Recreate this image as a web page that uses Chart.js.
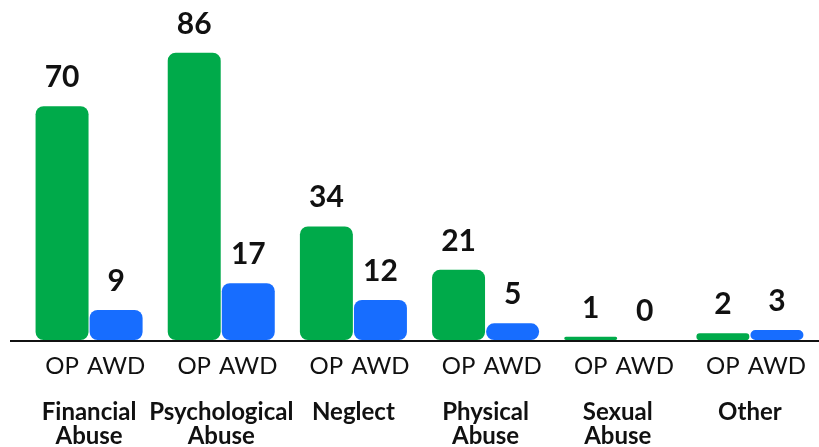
<!DOCTYPE html>
<html>
<head>
<meta charset="utf-8">
<script src="https://cdn.jsdelivr.net/npm/chart.js@4"></script>
<style>
  html, body { margin: 0; padding: 0; background: #fff; }
  #wrap { width: 819px; height: 447px; }
</style>
</head>
<body>
<div id="wrap"><canvas id="chart"></canvas></div>
<script>
var categories = [["Financial", "Abuse"], ["Psychological", "Abuse"], "Neglect", ["Physical", "Abuse"], ["Sexual", "Abuse"], "Other"];
var seriesNames = ["OP", "AWD"];
var opValues = [70, 86, 34, 21, 1, 2];
var awdValues = [9, 17, 12, 5, 0, 3];

var GREEN = '#00aa4a';
var BLUE = '#176dff';

// value labels above bars + OP/AWD under each bar + baseline
var barText = {
    id: 'barText',
    afterDatasetsDraw: function(chart) {
        var ctx = chart.ctx;
        var area = chart.chartArea;
        ctx.save();
        ctx.strokeStyle = '#111';
        ctx.lineWidth = 2;
        ctx.beginPath();
        ctx.moveTo(10, area.bottom + 1);
        ctx.lineTo(chart.width, area.bottom + 1);
        ctx.stroke();

        ctx.textAlign = 'center';
        chart.data.datasets.forEach(function(ds, i) {
            var meta = chart.getDatasetMeta(i);
            meta.data.forEach(function(bar, j) {
                ctx.fillStyle = '#111';
                ctx.font = 'bold 30px Lato';
                ctx.textBaseline = 'alphabetic';
                ctx.fillText(String(ds.data[j]), bar.x, bar.y - 19);

                ctx.font = '24px Lato';
                ctx.textBaseline = 'middle';
                ctx.fillText(ds.label, bar.x, area.bottom + 26);
            });
        });
        ctx.restore();
    }
};

new Chart(document.getElementById('chart'), {
    type: 'bar',
    data: {
        labels: categories,
        datasets: [
            {
                label: seriesNames[0],
                data: opValues,
                backgroundColor: GREEN,
                borderRadius: 8,
                borderSkipped: false,
                categoryPercentage: 0.818,
                barPercentage: 0.98
            },
            {
                label: seriesNames[1],
                data: awdValues,
                backgroundColor: BLUE,
                borderRadius: 8,
                borderSkipped: false,
                categoryPercentage: 0.818,
                barPercentage: 0.98
            }
        ]
    },
    options: {
        responsive: true,
        maintainAspectRatio: false,
        animation: false,
        layout: { padding: { top: 6, left: 23, right: 3, bottom: 0 } },
        plugins: {
            legend: { display: false },
            tooltip: { enabled: false }
        },
        scales: {
            x: {
                grid: { display: false },
                border: { display: false },
                ticks: {
                    color: '#111',
                    padding: 52,
                    font: { family: 'Lato', weight: 'bold', size: 24, lineHeight: 1.0 },
                    maxRotation: 0,
                    autoSkip: false
                },
                afterFit: function(scale) {
                    scale.height = 107;
                    scale.paddingLeft = 0;
                    scale.paddingRight = 0;
                }
            },
            y: {
                display: false,
                min: 0,
                max: 100
            }
        }
    },
    plugins: [barText]
});
</script>
</body>
</html>
